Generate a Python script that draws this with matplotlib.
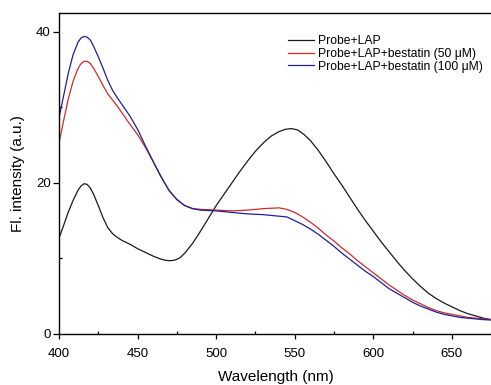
import matplotlib
matplotlib.use("Agg")
import matplotlib.pyplot as plt
from matplotlib.ticker import MultipleLocator

plt.rcParams['font.family'] = ['Liberation Sans', 'DejaVu Sans']

# ---------------- data ---------------- #
wl_black = [400, 403, 406, 409, 412, 414, 416, 418, 420, 422, 425, 428, 431, 434,
            437, 440, 445, 450, 455, 460, 465, 468, 471, 474, 477, 480, 485, 490,
            495, 500, 505, 510, 515, 520, 525, 530, 535, 540, 544, 548, 552, 556,
            560, 565, 570, 575, 580, 585, 590, 595, 600, 605, 610, 615, 620, 625,
            630, 635, 640, 645, 650, 655, 660, 665, 670, 675]
fl_black = [12.7, 14.4, 16.2, 17.7, 19.0, 19.6, 19.9, 19.8, 19.3, 18.5, 17.0, 15.4,
            14.1, 13.3, 12.8, 12.4, 11.9, 11.3, 10.8, 10.3, 9.9, 9.75, 9.7, 9.8,
            10.1, 10.7, 12.0, 13.6, 15.3, 17.0, 18.5, 20.0, 21.5, 22.9, 24.2, 25.3,
            26.2, 26.8, 27.1, 27.2, 27.0, 26.4, 25.6, 24.3, 22.8, 21.2, 19.7, 18.1,
            16.5, 15.0, 13.6, 12.2, 10.9, 9.6, 8.4, 7.3, 6.3, 5.4, 4.7, 4.1, 3.6,
            3.1, 2.7, 2.4, 2.1, 1.9]

wl_inhib = [400, 403, 406, 409, 412, 414, 416, 418, 420, 422, 425, 428, 431, 434,
            437, 440, 445, 450, 455, 460, 465, 470, 475, 480, 485, 490, 500, 510,
            520, 530, 540, 545, 550, 555, 560, 565, 570, 575, 580, 585, 590, 595,
            600, 605, 610, 615, 620, 625, 630, 635, 640, 645, 650, 655, 660, 665,
            670, 675]
fl_50 = [25.3, 28.3, 31.2, 33.5, 35.1, 35.8, 36.1, 36.1, 35.8, 35.2, 34.1, 32.9,
         31.8, 31.0, 30.2, 29.3, 27.8, 26.4, 24.7, 22.8, 20.8, 19.0, 17.8, 17.0,
         16.6, 16.5, 16.4, 16.3, 16.4, 16.6, 16.7, 16.5, 16.1, 15.5, 14.8, 14.0,
         13.1, 12.3, 11.4, 10.6, 9.7, 8.9, 8.1, 7.3, 6.5, 5.8, 5.1, 4.5, 4.0, 3.5,
         3.1, 2.8, 2.6, 2.4, 2.2, 2.1, 2.0, 1.9]
fl_100 = [28.6, 31.6, 34.6, 37.0, 38.6, 39.2, 39.4, 39.3, 38.9, 38.1, 36.7, 35.2,
          33.6, 32.3, 31.3, 30.4, 28.9, 27.1, 24.9, 22.8, 20.8, 19.0, 17.8, 17.0,
          16.6, 16.4, 16.3, 16.1, 15.9, 15.8, 15.6, 15.5, 15.0, 14.5, 13.9, 13.2,
          12.4, 11.6, 10.7, 9.9, 9.1, 8.3, 7.6, 6.8, 6.0, 5.4, 4.8, 4.2, 3.7, 3.3,
          2.9, 2.6, 2.4, 2.2, 2.1, 2.0, 1.9, 1.85]

labels = ["Probe+LAP",
          "Probe+LAP+bestatin (50 \u03bcM)",
          "Probe+LAP+bestatin (100 \u03bcM)"]

# ---------------- figure ---------------- #
fig = plt.figure(figsize=(4.91, 3.85), dpi=100)
ax = fig.add_axes([59 / 491, 51 / 385, 433 / 491, 321 / 385])

ax.plot(wl_black, fl_black, color="#1a1a1a", lw=0.9, label=labels[0])
ax.plot(wl_inhib, fl_50, color="#d02a2a", lw=0.9, label=labels[1])
ax.plot(wl_inhib, fl_100, color="#1f1f9a", lw=0.9, label=labels[2])

ax.set_xlim(400, 675.5)
ax.set_ylim(0, 42.5)
ax.xaxis.set_major_locator(MultipleLocator(50))
ax.xaxis.set_minor_locator(MultipleLocator(25))
ax.yaxis.set_major_locator(MultipleLocator(20))
ax.yaxis.set_minor_locator(MultipleLocator(10))
ax.tick_params(axis="x", which="major", direction="out", length=3.5, width=0.9,
               labelsize=9.5, pad=6.5)
ax.tick_params(axis="y", which="major", direction="out", length=4, width=0.9,
               labelsize=9.5, pad=2)
ax.tick_params(which="minor", direction="in", length=2.5, width=0.9)
ax.spines["right"].set_visible(False)
for s in ["left", "bottom", "top"]:
    ax.spines[s].set_linewidth(1.0)

ax.set_xlabel("Wavelength (nm)", fontsize=11, labelpad=7)
ax.set_ylabel("Fl. intensity (a.u.)", fontsize=11, labelpad=8)

ax.legend(loc="upper right", bbox_to_anchor=(0.979, 0.93), frameon=False,
          fontsize=8.7, handlelength=2.15, handletextpad=0.33, labelspacing=0.05,
          borderaxespad=0, borderpad=0)

fig.savefig("out.png", dpi=100)
